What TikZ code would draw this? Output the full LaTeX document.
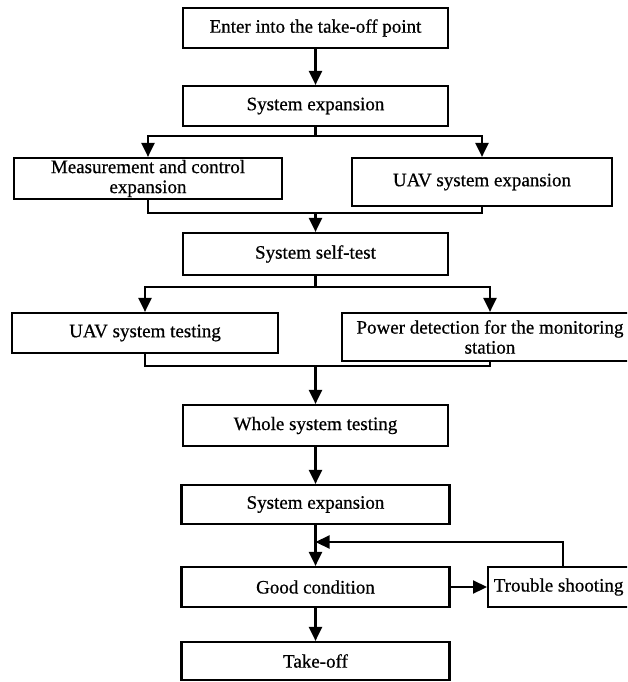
\documentclass[tikz,border=0pt]{standalone}
\usepackage{fontspec}
\setmainfont[FakeBold=0.6]{Liberation Serif}
\usetikzlibrary{arrows.meta}
\tikzset{
  box/.style={draw, rectangle, line width=2.2pt, inner sep=0pt, align=center,
    font=\fontsize{19}{20}\selectfont},
  conn/.style={line width=2.2pt},
  arr/.style={line width=2.2pt, -{Triangle[length=14pt,width=13pt]}},
}
\begin{document}
\begin{tikzpicture}[x=1pt,y=-1pt]
\clip (0,0) rectangle (627,682);
\fill[white] (0,0) rectangle (627,682);
% boxes
\node[box, minimum width=265pt, minimum height=40pt] (b1) at (315.5,28) {Enter into the take-off point};
\node[box, minimum width=265pt, minimum height=40pt] (b2) at (315.5,106) {System expansion};
\node[box, minimum width=268pt, minimum height=41pt] (mc) at (148,178.5) {Measurement and control\\expansion};
\node[box, minimum width=260pt, minimum height=48pt] (ue) at (482,182) {UAV system expansion};
\node[box, minimum width=265pt, minimum height=42pt] (b3) at (315.5,254) {System self-test};
\node[box, minimum width=266pt, minimum height=40pt] (ut) at (145,333) {UAV system testing};
\node[box, minimum width=296pt, minimum height=48pt] (pw) at (490,337) {Power detection for the monitoring\\station};
\node[box, minimum width=265pt, minimum height=41pt] (b4) at (315.5,425.5) {Whole system testing};
\node[box, minimum width=268pt, minimum height=39pt] (b5) at (315.5,504.5) {System expansion};
\node[box, minimum width=268pt, minimum height=40pt] (b6) at (315.5,587) {Good condition};
\node[box, minimum width=160pt, minimum height=40pt, anchor=west] (ts) at (487,587) {\hspace*{3pt}Trouble shooting\hspace*{22pt}};
\node[box, minimum width=268pt, minimum height=38pt] (b7) at (315.5,661) {Take-off};
% junction coordinates
\coordinate (s1) at (315.5,136);
\coordinate (m1) at (315.5,213);
\coordinate (s2) at (315.5,287);
\coordinate (m2) at (315.5,366);
\coordinate (fb) at (563,542);
\coordinate (fe) at (315.5,542);
% connectors
\draw[arr] (b1) -- (b2);
\draw[conn] (b2.south) -- (s1);
\draw[arr] (s1) -| (mc.north);
\draw[arr] (s1) -| (ue.north);
\draw[conn] (mc.south) |- (m1) -| (ue.south);
\draw[arr] (m1) -- (b3.north);
\draw[conn] (b3.south) -- (s2);
\draw[arr] (s2) -| (ut.north);
\draw[arr] (s2) -| (pw.north);
\draw[conn] (ut.south) |- (m2) -| (pw.south);
\draw[arr] (m2) -- (b4.north);
\draw[arr] (b4.south) -- (b5.north);
\draw[arr] (b5.south) -- (b6.north);
\draw[arr] (b6.east) -- (ts.west);
\draw[arr] (ts.north -| fb) -- (fb) -- (fe);
\draw[arr] (b6.south) -- (b7.north);
\end{tikzpicture}
\end{document}
